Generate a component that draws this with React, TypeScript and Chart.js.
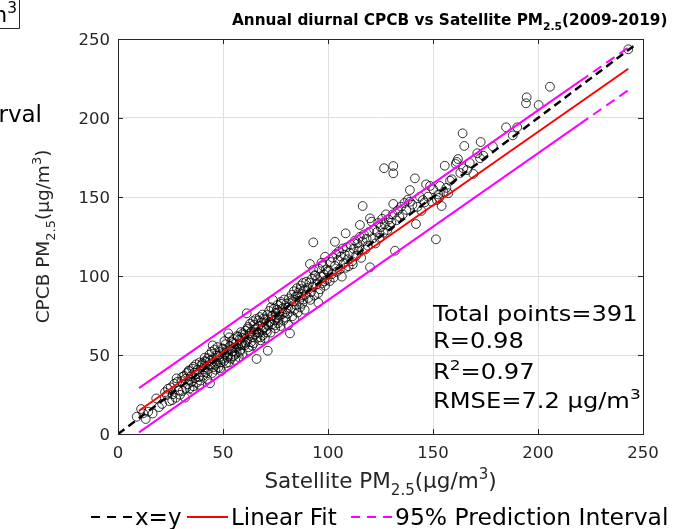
import React, { useEffect, useRef } from "react";
import { Chart, registerables } from "chart.js";

Chart.register(...registerables);

const FONT = '"DejaVu Sans", "Liberation Sans", sans-serif';

// ---- Scatter data: Satellite PM2.5 (x) vs CPCB PM2.5 (y), µg/m3 ----
const satellite: number[] = [
  // 9-20
  8.9, 12.0, 14.4, 11.0, 16.5, 18.2, 13.2, 19.5,
  // 20-30
  21.0, 22.4, 23.2, 24.5, 25.1, 26.0, 26.8, 27.5, 28.2, 28.9, 29.5, 23.8, 25.8, 27.9,
  // 30-40
  30.2, 30.8, 31.5, 31.9, 32.4, 32.8, 33.3, 33.7, 34.1, 34.6,
  35.0, 35.4, 35.9, 36.3, 36.8, 37.2, 37.6, 38.0, 38.5, 38.9,
  39.3, 39.8, 30.6, 32.1, 33.9, 35.6, 37.4, 38.7, 36.0, 34.3,
  // 40-50
  40.2, 40.6, 41.0, 41.3, 41.7, 42.0, 42.4, 42.8, 43.1, 43.5,
  43.8, 44.2, 44.6, 44.9, 45.3, 45.6, 46.0, 46.4, 46.7, 47.1,
  47.4, 47.8, 48.2, 48.5, 48.9, 49.2, 49.6, 49.9, 40.9, 42.6,
  43.8, 45.1, 46.2, 47.6, 48.7, 41.5,
  // 50-60
  50.2, 50.5, 50.9, 51.2, 51.6, 51.9, 52.3, 52.5, 53.0, 53.3,
  53.7, 54.0, 54.4, 54.7, 55.1, 55.4, 55.8, 56.1, 56.5, 56.8,
  57.2, 57.5, 57.9, 58.2, 58.6, 58.9, 59.3, 59.6, 50.7, 51.5,
  52.8, 53.6, 54.9, 55.7, 56.3, 57.1, 58.0, 58.8, 59.5, 52.1,
  // 60-70
  60.1, 60.5, 60.8, 61.3, 61.5, 61.9, 62.2, 62.6, 62.9, 63.3,
  63.6, 64.0, 64.3, 64.7, 65.0, 65.4, 65.7, 66.0, 66.4, 66.8,
  67.1, 67.5, 67.8, 68.2, 68.5, 68.9, 69.2, 69.6, 69.9, 60.7,
  61.8, 62.8, 63.9, 64.8, 65.9, 66.9, 67.9, 68.8, 69.5, 62.4,
  // 70-80
  70.2, 70.6, 71.0, 71.3, 71.6, 72.0, 72.4, 72.7, 73.1, 73.5,
  73.8, 74.2, 74.5, 74.9, 75.2, 75.6, 75.9, 76.3, 76.7, 77.0,
  77.4, 77.7, 78.1, 78.4, 78.8, 79.1, 79.5, 79.8, 70.9, 71.9,
  72.9, 73.8, 74.7, 75.7, 76.5, 77.5,
  // 80-90
  80.3, 80.7, 81.1, 81.4, 81.9, 82.2, 82.7, 83.0, 83.4, 83.8,
  84.1, 84.5, 84.9, 85.2, 85.6, 86.0, 86.3, 86.7, 87.1, 87.4,
  87.8, 88.1, 88.5, 88.9, 89.2, 89.6, 80.9, 82.5, 84.0, 85.5,
  86.9, 88.3,
  // 90-100
  90.2, 90.7, 91.1, 91.4, 91.9, 92.3, 92.8, 93.0, 93.0, 93.5,
  94.0, 94.4, 94.9, 95.4, 95.8, 96.3, 96.7, 97.2, 97.6, 98.1,
  98.6, 98.6, 99.0, 99.5, 91.6, 93.7, 95.4, 96.9, 98.3, 99.8,
  // 100-110
  100.3, 100.8, 101.3, 101.8, 102.2, 102.7, 103.3, 103.3, 103.8, 104.2,
  104.7, 105.2, 105.6, 106.1, 106.6, 107.0, 107.5, 108.0, 108.4, 108.4,
  108.9, 109.4, 109.8,
  // 110-120
  110.3, 110.9, 111.5, 112.2, 112.8, 113.4, 114.0, 114.6, 115.2, 115.2,
  115.8, 116.5, 116.5, 117.1, 117.8, 118.4, 119.0, 119.6, 111.8, 114.9,
  // 120-130
  120.0, 120.0, 120.8, 121.4, 122.0, 122.6, 123.3, 123.9, 124.5, 125.1,
  125.8, 126.4, 126.7, 127.0, 127.6, 128.3, 128.9, 129.5,
  // 130-140
  130.2, 130.8, 131.1, 131.1, 131.1, 131.9, 132.5, 133.2, 134.0, 134.8,
  135.6, 136.4, 137.3, 138.1, 139.0,
  // 140-150
  139.0, 140.2, 141.4, 141.9, 142.6, 143.8, 145.2, 146.0, 146.7, 147.6,
  148.6, 149.4, 150.1, 144.5,
  // 150-160
  151.4, 151.8, 152.5, 153.3, 154.1, 155.0, 155.6, 156.4, 157.3, 158.1,
  159.0, 152.9,
  // 160-175
  160.8, 161.3, 161.9, 163.0, 164.1, 164.4, 164.9, 166.2, 167.5, 169.2,
  171.1, 172.4, 172.7, 174.0,
  // 175+
  184.8, 190.1, 194.3, 194.6, 200.3, 205.7, 243.0, 178.5, 188.0,
];

const cpcb: number[] = [
  // 9-20
  10.9, 13.1, 14.1, 15.8, 13.0, 22.5, 9.5, 17.0,
  // 20-30
  19.0, 26.5, 24.7, 20.8, 29.5, 25.1, 31.8, 22.9, 33.0, 27.5, 24.8, 28.6, 21.4, 35.2,
  // 30-40
  33.5, 27.2, 36.8, 23.0, 29.1, 38.6, 31.4, 40.2, 28.7, 36.5,
  33.0, 41.3, 30.2, 38.9, 35.4, 44.1, 32.6, 40.8, 36.0, 45.3,
  33.8, 43.6, 36.2, 34.9, 39.8, 27.9, 37.9, 31.2, 42.6, 34.4,
  // 40-50
  44.8, 36.9, 42.1, 48.3, 39.0, 45.6, 34.8, 47.9, 41.2, 50.2,
  32.1, 44.0, 52.1, 38.6, 47.2, 42.3, 53.4, 40.7, 49.8, 44.9,
  55.0, 42.1, 48.6, 51.9, 45.3, 39.9, 54.2, 47.6, 40.9, 38.4,
  46.3, 56.1, 43.8, 49.4, 41.6, 46.2,
  // 50-60
  53.9, 46.2, 50.7, 56.8, 44.9, 52.9, 49.3, 63.7, 61.2, 55.7,
  47.6, 58.4, 52.3, 49.1, 60.2, 54.6, 46.8, 57.3, 51.4, 62.0,
  55.9, 48.7, 59.8, 53.2, 64.5, 56.4, 50.7, 60.9, 58.8, 51.6,
  45.3, 53.5, 57.7, 50.1, 54.8, 61.5, 52.0, 57.2, 63.7, 48.2,
  // 60-70
  62.8, 56.3, 65.4, 76.4, 59.0, 67.7, 54.9, 63.6, 69.8, 58.1,
  64.9, 61.2, 71.4, 57.5, 66.3, 63.0, 72.8, 47.5, 60.9, 68.2,
  64.1, 74.0, 59.3, 70.6, 65.8, 62.4, 73.1, 67.5, 60.7, 57.9,
  66.5, 62.3, 55.8, 69.2, 64.4, 71.9, 61.2, 75.6, 66.9, 52.8,
  // 70-80
  72.4, 65.8, 75.3, 52.7, 68.6, 77.9, 71.0, 64.2, 74.6, 69.5,
  84.8, 79.3, 72.1, 66.9, 76.8, 73.5, 81.6, 70.2, 77.3, 74.8,
  68.3, 82.4, 75.9, 79.6, 71.8, 85.1, 77.2, 73.6, 64.3, 70.7,
  80.2, 75.1, 68.7, 78.7, 72.3, 83.6,
  // 80-90
  82.6, 76.2, 69.0, 85.8, 63.7, 79.3, 88.1, 74.5, 83.9, 90.4,
  78.8, 86.7, 81.5, 92.3, 76.9, 89.6, 84.2, 80.1, 94.0, 86.8,
  82.4, 95.6, 90.9, 78.6, 88.2, 96.3, 79.9, 84.6, 72.8, 87.9,
  91.8, 85.1,
  // 90-100
  92.4, 86.1, 95.8, 107.6, 89.7, 98.2, 93.4, 103.8, 121.3, 87.6,
  100.1, 94.7, 97.9, 83.1, 104.5, 91.6, 99.8, 95.3, 106.2, 101.0,
  93.9, 112.2, 104.1, 97.6, 84.9, 100.6, 89.2, 108.4, 96.7, 102.9,
  // 100-110
  103.5, 96.8, 108.9, 101.2, 111.6, 99.0, 106.4, 121.7, 113.9, 102.7,
  109.8, 115.6, 104.1, 112.3, 99.6, 117.4, 108.0, 113.5, 105.2, 127.0,
  118.2, 110.6, 106.1,
  // 110-120
  114.6, 119.8, 109.3, 117.2, 122.4, 112.9, 120.6, 116.0, 124.8, 132.3,
  111.5, 121.9, 144.3, 126.3, 116.8, 123.5, 119.2, 128.0, 107.4, 118.4,
  // 120-130
  105.5, 136.5, 134.4, 123.9, 129.5, 120.6, 127.8, 133.6, 124.1, 130.9,
  136.2, 127.4, 168.2, 132.8, 139.0, 129.1, 135.7, 131.8,
  // 130-140
  133.8, 138.9, 169.6, 165.0, 145.6, 116.0, 135.2, 141.6, 137.4, 143.9,
  139.0, 146.2, 141.8, 148.3, 154.4,
  // 140-150
  147.0, 145.1, 161.8, 132.9, 143.8, 150.2, 148.1, 146.6, 158.0, 150.2,
  157.0, 147.0, 154.9, 141.2,
  // 150-160
  123.2, 148.1, 151.6, 157.0, 144.3, 153.2, 169.8, 155.8, 152.4, 160.3,
  161.2, 149.5,
  // 160-175
  170.9, 172.2, 174.0, 165.2, 190.3, 168.2, 182.3, 167.0, 171.5, 164.6,
  177.7, 174.5, 184.8, 176.1,
  // 175+
  194.1, 194.1, 209.3, 213.1, 208.2, 219.8, 243.5, 182.0, 189.0,
];

// ---- Reference / fit lines ----
const identityX = [0, 247];
const fitX = [10, 243];
const fitY = [14.7, 231.2];
const piX = [10, 220, 243];
const piUpper = [29.0, 223.3, 244.6];
const piLower = [1.0, 196.3, 217.6];
const piDashFrom = 220;

// ---- Axes ----
const axisTicks = [0, 50, 100, 150, 200, 250];

// ---- Texts ----
type Seg = { t: string; s?: "sub" | "sup" };
const titleSegs: Seg[] = [
  { t: "Annual diurnal CPCB vs Satellite PM" },
  { t: "2.5", s: "sub" },
  { t: "(2009-2019)" },
];
const xLabelSegs: Seg[] = [
  { t: "Satellite PM" },
  { t: "2.5", s: "sub" },
  { t: "(μg/m" },
  { t: "3", s: "sup" },
  { t: ")" },
];
const yLabelSegs: Seg[] = [
  { t: "CPCB PM" },
  { t: "2.5", s: "sub" },
  { t: "(μg/m" },
  { t: "3", s: "sup" },
  { t: ")" },
];
const statsLines: Seg[][] = [
  [{ t: "Total points=391" }],
  [{ t: "R=0.98" }],
  [{ t: "R" }, { t: "2", s: "sup" }, { t: "=0.97" }],
  [{ t: "RMSE=7.2 μg/m" }, { t: "3", s: "sup" }],
];
const legendLabels = ["x=y", "Linear Fit", "95% Prediction Interval"];

function segFont(size: number, weight: string, s?: string) {
  const fs = s ? size * 0.7 : size;
  return `${weight} ${fs}px ${FONT}`;
}
function richWidth(ctx: CanvasRenderingContext2D, segs: Seg[], size: number, weight: string) {
  let w = 0;
  for (const sg of segs) {
    ctx.font = segFont(size, weight, sg.s);
    w += ctx.measureText(sg.t).width;
  }
  return w;
}
function drawRich(
  ctx: CanvasRenderingContext2D,
  segs: Seg[],
  x: number,
  y: number,
  size: number,
  weight: string,
  align: "left" | "center" | "right",
  color: string,
  sx = 1
) {
  const w = richWidth(ctx, segs, size, weight) * sx;
  const x0 = align === "center" ? x - w / 2 : align === "right" ? x - w : x;
  ctx.save();
  ctx.translate(x0, y);
  ctx.scale(sx, 1);
  ctx.fillStyle = color;
  ctx.textAlign = "left";
  ctx.textBaseline = "alphabetic";
  let cx = 0;
  for (const sg of segs) {
    ctx.font = segFont(size, weight, sg.s);
    const dy = sg.s === "sub" ? size * 0.32 : sg.s === "sup" ? -size * 0.42 : 0;
    ctx.fillText(sg.t, cx, dy);
    cx += ctx.measureText(sg.t).width;
  }
  ctx.restore();
}

const overlayPlugin = {
  id: "overlay",
  afterDraw(chart: any) {
    const ctx: CanvasRenderingContext2D = chart.ctx;
    const { left, right, top, bottom } = chart.chartArea;
    const xs = chart.scales.x;
    const ys = chart.scales.y;
    const axisColor = "#262626";
    ctx.save();

    // box
    ctx.strokeStyle = axisColor;
    ctx.lineWidth = 1;
    ctx.setLineDash([]);
    ctx.strokeRect(Math.round(left) + 0.5, Math.round(top) + 0.5, Math.round(right - left), Math.round(bottom - top));

    // inward ticks on all sides
    const tl = 5;
    ctx.beginPath();
    for (const t of xs.ticks) {
      const px = Math.round(xs.getPixelForValue(t.value)) + 0.5;
      ctx.moveTo(px, bottom);
      ctx.lineTo(px, bottom - tl);
      ctx.moveTo(px, top);
      ctx.lineTo(px, top + tl);
    }
    for (const t of ys.ticks) {
      const py = Math.round(ys.getPixelForValue(t.value)) + 0.5;
      ctx.moveTo(left, py);
      ctx.lineTo(left + tl, py);
      ctx.moveTo(right, py);
      ctx.lineTo(right - tl, py);
    }
    ctx.stroke();

    // tick labels
    ctx.fillStyle = axisColor;
    ctx.font = `16.5px ${FONT}`;
    ctx.textBaseline = "alphabetic";
    ctx.textAlign = "center";
    for (const t of xs.ticks) {
      ctx.fillText(String(t.value), xs.getPixelForValue(t.value), bottom + 24);
    }
    ctx.textAlign = "right";
    for (const t of ys.ticks) {
      ctx.fillText(String(t.value), left - 8, ys.getPixelForValue(t.value) + 6);
    }

    // title
    drawRich(ctx, titleSegs, 232, 25, 15.3, "bold", "left", "#000");

    // axis labels
    drawRich(ctx, xLabelSegs, (left + right) / 2, 488, 21.5, "normal", "center", axisColor);
    ctx.save();
    ctx.translate(49, (top + bottom) / 2);
    ctx.rotate(-Math.PI / 2);
    drawRich(ctx, yLabelSegs, 0, 0, 18.5, "normal", "center", axisColor);
    ctx.restore();

    // statistics text
    const statY = [321, 348, 379, 408];
    statsLines.forEach((segs, i) => drawRich(ctx, segs, 433, statY[i], 21, "normal", "left", "#000", 1.15));

    // legend (bottom)
    const lineStarts = [91, 187, 351];
    const textStarts = [135, 231, 395];
    const legendY = 517;
    const ds = chart.data.datasets;
    for (let i = 0; i < 3; i++) {
      const d = ds[i];
      ctx.strokeStyle = d.borderColor;
      ctx.lineWidth = 2;
      ctx.setLineDash(i === 1 ? [] : [9, 7]);
      ctx.beginPath();
      ctx.moveTo(lineStarts[i], legendY);
      ctx.lineTo(lineStarts[i] + 41, legendY);
      ctx.stroke();
      ctx.setLineDash([]);
      drawRich(ctx, [{ t: legendLabels[i] }], textStarts[i], 525, 23, "normal", "left", "#000", i === 2 ? 1.02 : 1);
    }

    // clipped fragments of the neighbouring panel
    drawRich(ctx, [{ t: "Interval" }], 42, 122, 23, "normal", "right", "#000");
    drawRich(ctx, [{ t: "μg/m" }, { t: "3", s: "sup" }], 17, 22, 22, "normal", "right", "#000");
    ctx.strokeStyle = "#262626";
    ctx.lineWidth = 1;
    ctx.beginPath();
    ctx.moveTo(19.5, 0);
    ctx.lineTo(19.5, 28.5);
    ctx.lineTo(0, 28.5);
    ctx.stroke();

    ctx.restore();
  },
};

export default function App() {
  const canvasRef = useRef<HTMLCanvasElement | null>(null);

  useEffect(() => {
    if (!canvasRef.current) return;
    const scatterPts = satellite.map((x, i) => ({ x, y: cpcb[i] }));
    const idPts = identityX.map((x) => ({ x, y: x }));
    const fitPts = fitX.map((x, i) => ({ x, y: fitY[i] }));
    const upPts = piX.map((x, i) => ({ x, y: piUpper[i] }));
    const loPts = piX.map((x, i) => ({ x, y: piLower[i] }));
    const piSegment = {
      borderDash: (c: any) => (c.p0.parsed.x >= piDashFrom ? [10, 6] : undefined),
    };

    const chart = new Chart(canvasRef.current, {
      type: "scatter",
      data: {
        datasets: [
          {
            label: legendLabels[0],
            type: "line",
            data: idPts,
            borderColor: "#000000",
            borderWidth: 2.5,
            borderDash: [8, 5],
            pointRadius: 0,
            fill: false,
            order: 1,
          } as any,
          {
            label: legendLabels[1],
            type: "line",
            data: fitPts,
            borderColor: "#ff0000",
            borderWidth: 2,
            pointRadius: 0,
            fill: false,
            order: 2,
          } as any,
          {
            label: legendLabels[2],
            type: "line",
            data: upPts,
            borderColor: "#ff00ff",
            borderWidth: 2,
            pointRadius: 0,
            fill: false,
            segment: piSegment,
            order: 3,
          } as any,
          {
            label: "",
            type: "line",
            data: loPts,
            borderColor: "#ff00ff",
            borderWidth: 2,
            pointRadius: 0,
            fill: false,
            segment: piSegment,
            order: 4,
          } as any,
          {
            label: "Data",
            data: scatterPts,
            pointStyle: "circle",
            pointRadius: 4.4,
            pointBorderWidth: 0.8,
            borderColor: "#000000",
            backgroundColor: "rgba(0,0,0,0)",
            order: 10,
          } as any,
        ],
      },
      options: {
        animation: false,
        responsive: false,
        maintainAspectRatio: false,
        events: [],
        layout: { padding: { left: 118, right: 31, top: 39, bottom: 95 } },
        plugins: {
          legend: { display: false },
          tooltip: { enabled: false },
          title: { display: false },
        },
        scales: {
          x: {
            type: "linear",
            min: 0,
            max: 250,
            afterBuildTicks: (s: any) => {
              s.ticks = axisTicks.map((v) => ({ value: v }));
            },
            afterFit: (s: any) => {
              s.height = 0;
            },
            ticks: { display: false },
            grid: { color: "#dfdfdf", lineWidth: 1, drawTicks: false },
            border: { display: false },
          },
          y: {
            type: "linear",
            min: 0,
            max: 250,
            afterBuildTicks: (s: any) => {
              s.ticks = axisTicks.map((v) => ({ value: v }));
            },
            afterFit: (s: any) => {
              s.width = 0;
            },
            ticks: { display: false },
            grid: { color: "#dfdfdf", lineWidth: 1, drawTicks: false },
            border: { display: false },
          },
        },
      } as any,
      plugins: [overlayPlugin],
    });
    return () => chart.destroy();
  }, []);

  return (
    <div style={{ position: "fixed", left: 0, top: 0, width: 674, height: 529, background: "#fff" }}>
      <canvas ref={canvasRef} width={674} height={529} style={{ width: 674, height: 529, display: "block" }} />
    </div>
  );
}
